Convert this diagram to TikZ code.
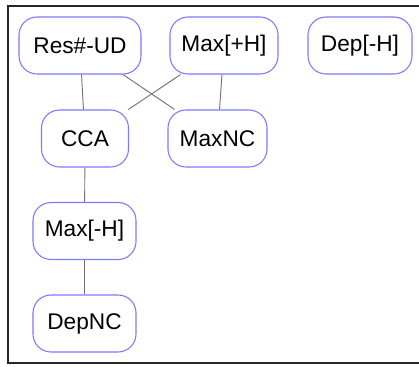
\documentclass[tikz,border=0pt]{standalone}
\usepackage{fontspec}
\setmainfont{Liberation Sans}
\begin{document}
\begin{tikzpicture}[x=0.75pt,y=-0.75pt,
  box/.style={draw=blue!52!white, line width=0.8pt, fill=white, rounded corners=13.5pt,
    inner sep=0pt, minimum height=57*0.75pt, text=black,
    font=\fontsize{17pt}{20pt}\selectfont},
  link/.style={draw=black!55, line width=0.7pt},
  frame/.style={draw=black!85, line width=1.4pt}]
\useasboundingbox (0,0) rectangle (419,367);
\draw[frame] (419,6) -- (8,6) -- (8,363) -- (419,363);
\node[box, minimum width=122*0.75pt] (res) at (80,45.5) {Res\#-UD};
\node[box, minimum width=108*0.75pt] (maxh) at (224,45.5) {Max[+H]};
\node[box, minimum width=104*0.75pt] (dep) at (360,45.5) {Dep[-H]};
\node[box, minimum width=87*0.75pt] (cca) at (85,138.5) {CCA};
\node[box, minimum width=99*0.75pt] (maxnc) at (217.5,138.5) {MaxNC};
\node[box, minimum width=103*0.75pt] (maxm) at (84.5,231) {Max[-H]};
\node[box, minimum width=103*0.75pt] (depnc) at (84.5,323.5) {DepNC};
\draw[link] (res) -- (cca);
\draw[link] (res) -- (maxnc);
\draw[link] (maxh) -- (cca);
\draw[link] (maxh) -- (maxnc);
\draw[link] (cca) -- (maxm);
\draw[link] (maxm) -- (depnc);
\end{tikzpicture}
\end{document}
